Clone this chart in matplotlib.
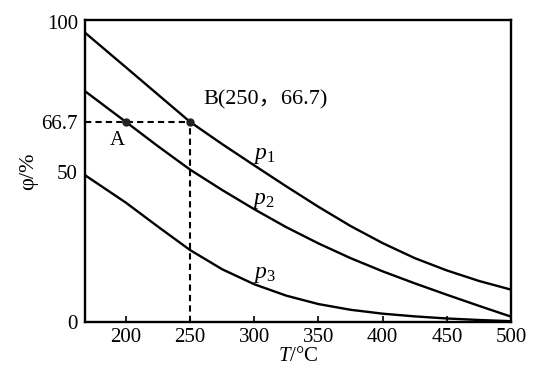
import matplotlib
matplotlib.use("Agg")
import matplotlib.pyplot as plt

plt.rcParams['font.family'] = ['Liberation Serif', 'Noto Sans CJK SC', 'DejaVu Serif']
plt.rcParams['mathtext.fontset'] = 'custom'
plt.rcParams['mathtext.rm'] = 'Liberation Serif'
plt.rcParams['mathtext.it'] = 'Liberation Serif:italic'

# data
T = [168, 200, 225, 250, 275, 300, 325, 350, 375, 400, 425, 450, 475, 500]
p1 = [96.5, 84.9, 75.8, 66.7, 59.3, 52.2, 45.2, 38.4, 32.0, 26.3, 21.3, 17.2, 13.7, 10.8]
p2 = [77.0, 66.7, 58.6, 50.8, 44.0, 37.6, 31.6, 26.2, 21.3, 16.9, 12.9, 9.1, 5.4, 1.8]
p3 = [49.0, 39.8, 31.8, 24.0, 17.6, 12.6, 8.8, 6.0, 4.1, 2.8, 1.9, 1.2, 0.7, 0.3]
pointA = (200, 66.7)
pointB = (250, 66.7)
xticks = [200, 250, 300, 350, 400, 450, 500]
yticks = [0, 50, 66.7, 100]
ytick_labels = ['0', '50', '66.7', '100']

fig = plt.figure(figsize=(5.33, 3.89), dpi=100)
ax = fig.add_axes([0.159, 0.172, 0.800, 0.777])

for s in (p1, p2, p3):
    ax.plot(T, s, color='black', lw=1.7)

# dashed guides
ax.plot([168, pointB[0]], [pointB[1], pointB[1]], ls=(0, (3, 2)), color='black', lw=1.5)
ax.plot([pointB[0], pointB[0]], [0, pointB[1]], ls=(0, (3, 2)), color='black', lw=1.5)
ax.plot([pointA[0], pointB[0]], [pointA[1], pointB[1]], ls='none', marker='o',
        ms=5, color='#222222')

ax.text(260, 74, 'B(250，66.7)', fontsize=16, ha='left', va='center')
ax.text(193.6, 60.5, 'A', fontsize=15, ha='center', va='center')
ax.text(299, 55.5, '$p_1$', fontsize=17, ha='left', va='center')
ax.text(298, 40.5, '$p_2$', fontsize=17, ha='left', va='center')
ax.text(299, 16.0, '$p_3$', fontsize=17, ha='left', va='center')

ax.set_xlim(168, 500)
ax.set_ylim(0, 100.7)
ax.set_xticks(xticks)
ax.set_yticks(yticks)
ax.set_yticklabels(ytick_labels)
ax.tick_params(axis='x', direction='in', length=4, width=1.2, labelsize=15, pad=4)
ax.tick_params(axis='y', length=0, labelsize=15, pad=5)
for sp in ax.spines.values():
    sp.set_linewidth(1.7)

ax.set_xlabel('$T$/°C', fontsize=15, labelpad=0)
ax.set_ylabel('φ/%', fontsize=16, labelpad=2)

fig.savefig('out.png', dpi=100)
